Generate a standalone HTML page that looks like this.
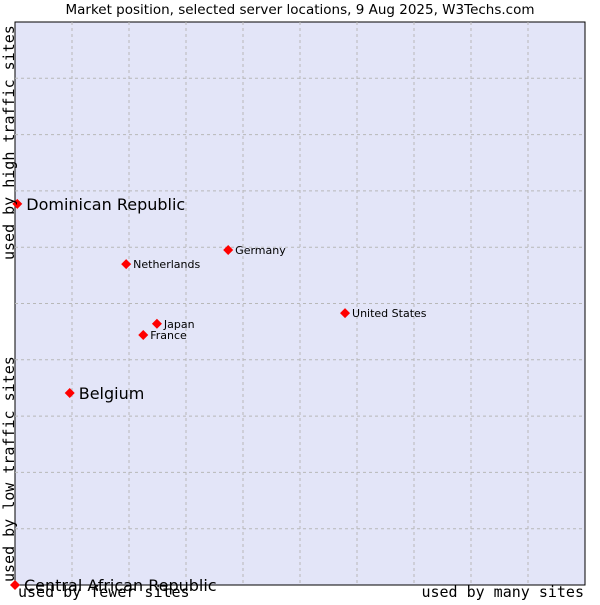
<!DOCTYPE html>
<html><head><meta charset="utf-8"><style>
body{margin:0;background:#fff;width:600px;height:600px;overflow:hidden}
svg text{font-family:"DejaVu Sans","Liberation Sans",sans-serif}
.mono{font-family:"DejaVu Sans Mono","Liberation Mono",monospace}
</style></head><body>
<svg id="chart" width="600" height="600">
<text x="300" y="14" text-anchor="middle" font-size="13.5" fill="#000">Market position, selected server locations, 9 Aug 2025, W3Techs.com</text>
<rect x="15" y="22" width="570" height="563" fill="#e3e5f8" stroke="#000" stroke-width="1"/>
<g id="grid"></g>
<g id="points"></g>
<text class="mono" x="14" y="260" font-size="15" transform="rotate(-90 14 260)" text-anchor="start">used by high traffic sites</text>
<text class="mono" x="14" y="582" font-size="15" transform="rotate(-90 14 582)" text-anchor="start">used by low traffic sites</text>
<text class="mono" x="18" y="597" font-size="15">used by fewer sites</text>
<text class="mono" x="584" y="597" font-size="15" text-anchor="end">used by many sites</text>
</svg>
<script>
const names=["Dominican Republic","Belgium","Central African Republic","Netherlands","Germany","Japan","France","United States"];
const xVals=[0.4,9.6,0,19.5,37.4,24.9,22.5,57.9];
const yVals=[67.7,34.1,0,57,59.5,46.4,44.4,48.3];
const big=[true,true,true,false,false,false,false,false];
const ns="http://www.w3.org/2000/svg";
const X0=15,X1=585,Y0=585,Y1=22;
const sx=v=>X0+v/100*(X1-X0);
const sy=v=>Y0-v/100*(Y0-Y1);
const grid=document.getElementById('grid');
for(let i=1;i<10;i++){
  const l=document.createElementNS(ns,'line');
  l.setAttribute('x1',sx(i*10));l.setAttribute('x2',sx(i*10));l.setAttribute('y1',Y1);l.setAttribute('y2',Y0);
  l.setAttribute('stroke','#b8b8b8');l.setAttribute('stroke-dasharray','3,3');
  
  
  grid.appendChild(l);
  const h=document.createElementNS(ns,'line');
  h.setAttribute('y1',sy(i*10));h.setAttribute('y2',sy(i*10));h.setAttribute('x1',X0);h.setAttribute('x2',X1);
  h.setAttribute('stroke','#b8b8b8');h.setAttribute('stroke-dasharray','3,3');
  
  
  grid.appendChild(h);
}
const pts=document.getElementById('points');
names.forEach((n,i)=>{
  const x=sx(xVals[i]),y=sy(yVals[i]);
  const d=document.createElementNS(ns,'path');
  d.setAttribute('d',`M${x-5},${y} L${x},${y-5} L${x+5},${y} L${x},${y+5}Z`);
  d.setAttribute('fill','#ff0000');
  
  
  pts.appendChild(d);
  const t=document.createElementNS(ns,'text');
  t.setAttribute('x',x+(big[i]?9:7));t.setAttribute('y',y+(big[i]?6:4));
  t.setAttribute('font-size',big[i]?16:11);
  t.textContent=n;
  
  
  pts.appendChild(t);
});
</script>
</body></html>
